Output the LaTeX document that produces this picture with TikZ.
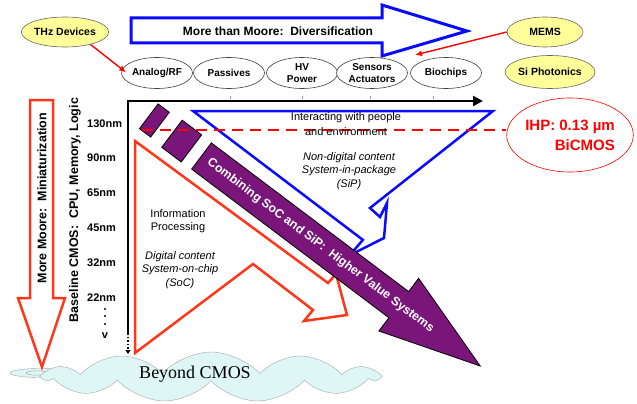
\documentclass[tikz,border=0pt]{standalone}
\usepackage{fontspec}
\setmainfont{Liberation Sans}
\newfontfamily\cloudfont{Liberation Serif}
\usepackage{tikz}
\usetikzlibrary{shapes,arrows,positioning,calc,arrows.meta}
\definecolor{moorered}{RGB}{255,55,25}
\definecolor{sipblue}{RGB}{10,10,255}
\definecolor{valuepurple}{RGB}{122,22,122}
\definecolor{padyellow}{RGB}{255,255,153}
\definecolor{cloudcyan}{RGB}{222,246,246}

\begin{document}
\begin{tikzpicture}[x=1pt, y=-1pt,
    application/.style={ellipse, draw=black!75, fill=white, line width=0.6pt, minimum width=71pt, minimum height=31pt, inner sep=0pt, align=center, font=\bfseries\fontsize{10}{12.5}\selectfont},
    extension/.style={ellipse, draw=black!60, fill=padyellow, line width=0.6pt, minimum width=76pt, minimum height=30pt, inner sep=0pt, font=\bfseries\fontsize{10.5}{12}\selectfont},
    nmlabel/.style={anchor=west, inner sep=0pt, font=\bfseries\fontsize{11}{12}\selectfont},
    pointer/.style={draw=red, line width=1.4pt, -{Latex[length=7pt,width=6pt]}},
    blockarrow/.style={line width=2.5pt, line join=miter, miter limit=12},
    plaintext/.style={align=center, inner sep=0pt, font=\fontsize{11}{13}\selectfont},
    slanted/.style={align=center, inner sep=0pt, font=\itshape\fontsize{11}{13.5}\selectfont},
]
    \useasboundingbox (0,0) rectangle (637,404);

    % Beyond CMOS cloud
    \draw[gray!70, fill=cloudcyan] (40,373) ellipse (30 and 4.5);
    \draw[gray!70] (37,373) ellipse (11 and 2.2);
    \node[cloud, cloud puffs=11, cloud puff arc=95, cloud ignores aspect, draw=gray!70, fill=cloudcyan, minimum width=333pt, minimum height=50pt, inner sep=0pt] (cloudbody) at (211,377) {};
    \node[font=\cloudfont\fontsize{18}{20}\selectfont] (beyond) at (195,374) {Beyond CMOS};

    % More Moore arrow
    \draw[blockarrow, draw=moorered, fill=white] (30,100) -- (53,100) -- (53,298) -- (65,298) -- (42,367) -- (18,298) -- (30,298) -- cycle;
    \node[rotate=90, font=\bfseries\fontsize{12.5}{14}\selectfont] (moremoore) at (42,198) {More Moore:~~Miniaturization};

    % Axes
    \coordinate (yorig) at (128,101);
    \coordinate (xend) at (483,101);
    \coordinate (ydot) at (128,333);
    \coordinate (yend) at (128,354);
    \draw[line width=2.3pt, -{Triangle[length=10pt,width=10pt]}] (ydot) -- (yorig) -- (xend);
    \draw[line width=1.6pt, dotted, -{Triangle[length=4pt,width=5pt]}] (ydot) -- (yend);
    \foreach \x in {230,302,370,433}
        \draw[black!40, line width=0.6pt] (\x,99) -- (\x,96);
    \node[rotate=90, font=\bfseries\fontsize{12.5}{14}\selectfont] (baseline) at (75,210) {Baseline CMOS:~~CPU, Memory, Logic};
    \foreach \lbl/\y in {130/124, 90/158, 65/193, 45/228, 32/263, 22/298}
        \node[nmlabel] (nm\lbl) at (87,\y) {\lbl nm};
    \foreach \y in {309,316,324}
        \fill (105,\y) circle (1.2);
    \node[font=\bfseries\fontsize{11}{12}\selectfont, inner sep=0pt] (vmark) at (105,336) {v};

    % SoC and SiP arrows
    \draw[blockarrow, draw=moorered] (135,141) -- (328,283) -- (336,274) -- (347,315) -- (304,321) -- (313,310) -- (253,264) -- (135,353) -- cycle;
    \draw[blockarrow, draw=sipblue] (193,111) -- (493,111) -- (370,208) -- (380,217) -- (387,203) -- (384,238) -- (349.7,255.2) -- (362.9,239.9) -- cycle;

    % Higher value systems
    \begin{scope}[shift={(201.5,156)}, rotate=-37]
        \draw[fill=valuepurple, line width=0.8pt] (-66,-15.5) rectangle (-52,15.5);
        \draw[fill=valuepurple, line width=0.8pt] (-37,-17) rectangle (-12.6,17);
        \draw[fill=valuepurple, line width=0.8pt, line join=miter] (0,-16.4) -- (247,-16.4) -- (247,-33) -- (349,0) -- (247,33) -- (247,16.4) -- (0,16.4) -- cycle;
        \node[rotate=-37, text=white, font=\bfseries\fontsize{12.3}{14}\selectfont] (combine) at (149,0) {Combining SoC and SiP:~~Higher Value Systems};
    \end{scope}

    % IHP process
    \coordinate (dashstart) at (142,130);
    \node[ellipse, draw=red, line width=0.6pt, fill=white, minimum width=115pt, minimum height=74pt, inner sep=0pt, text=red, align=right, font=\bfseries\fontsize{15}{20}\selectfont] (ihp) at (570,135) {IHP: 0.13 µm\\BiCMOS};
    \draw[red, line width=1.8pt, dash pattern=on 11pt off 7pt] (dashstart) -- (dashstart -| ihp.west);

    % Texts
    \node[plaintext, font=\fontsize{11}{15}\selectfont] (interact) at (346,124) {Interacting with people\\and environment};
    \node[slanted] (sip) at (349,171) {Non-digital content\\System-in-package\\(SiP)};
    \node[plaintext] (info) at (178,221) {Information\\Processing};
    \node[slanted] (soc) at (180,270) {Digital content\\System-on-chip\\(SoC)};

    % More than Moore arrow
    \draw[blockarrow, draw=sipblue, line width=3pt] (131,18) -- (382,18) -- (382,5) -- (467,31) -- (382,56) -- (382,43) -- (131,43) -- cycle;
    \node[font=\bfseries\fontsize{12}{14}\selectfont] (morethan) at (278,31) {More than Moore:~~Diversification};

    % Applications
    \node[application] (analog) at (157,73) {Analog/RF};
    \node[application] (passives) at (229,73) {Passives};
    \node[application] (hvpower) at (302,73) {HV\\Power};
    \node[application] (sensors) at (372,73) {Sensors\\Actuators};
    \node[application] (biochips) at (446,73) {Biochips};

    % Extensions
    \node[extension] (thz) at (65,32) {THz Devices};
    \node[extension] (mems) at (545,32) {MEMS};
    \node[extension, minimum height=33pt] (siphot) at (550,72) {Si Photonics};
    \coordinate (memstip) at (415,55);
    \draw[pointer, shorten >=-5pt] (thz.-26) -- (analog.174);
    \draw[pointer] (mems.west) -- (memstip);

\end{tikzpicture}
\end{document}
